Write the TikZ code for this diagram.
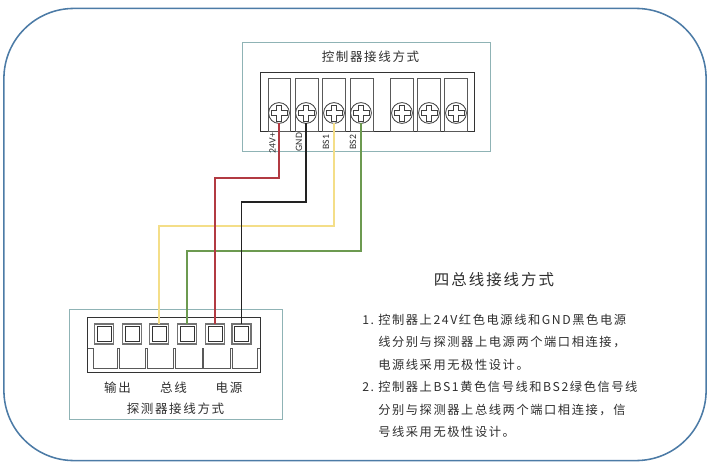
\documentclass[tikz,border=0pt]{standalone}
\usepackage{fontspec}
\setmainfont{Noto Sans CJK SC}
\newfontfamily\cjkspaced[LetterSpace=13]{Noto Sans CJK SC}
\newfontfamily\pinfont{Carlito}
\usetikzlibrary{positioning}

\definecolor{framecol}{HTML}{4C7BA6}
\definecolor{boxcol}{HTML}{8FB3B5}
\definecolor{inkcol}{HTML}{2E2E2E}
\definecolor{redwire}{HTML}{B23A42}
\definecolor{yellowwire}{HTML}{F4DE88}
\definecolor{greenwire}{HTML}{6C9A50}
\definecolor{blackwire}{HTML}{222222}

\tikzset{
	frame/.style={draw=framecol,line width=1.1pt,rounded corners=1.75cm,inner sep=0pt,outer sep=0pt,minimum width=17.55cm,minimum height=11.3cm},
	groupbox/.style={draw=boxcol,line width=0.6pt,inner sep=0pt,outer sep=0pt},
	block/.style={draw=black!80,line width=0.7pt,inner sep=0pt,outer sep=0pt},
	slot/.style={draw=black!65,line width=0.5pt,inner sep=0pt,outer sep=0pt,minimum width=0.56cm,minimum height=1.325cm},
	screw/.style={circle,draw=black!75,line width=0.6pt,fill=white,inner sep=0pt,outer sep=0pt,minimum size=0.52cm,
		path picture={
			\draw[black!75,line width=0.5pt]
				(-2.6,-8)--(2.6,-8)--(2.6,-2.6)--(8,-2.6)--(8,2.6)--(2.6,2.6)
				--(2.6,8)--(-2.6,8)--(-2.6,2.6)--(-8,2.6)--(-8,-2.6)--(-2.6,-2.6)--cycle;
		}},
	port/.style={draw=black!55,line width=0.9pt,fill=white,inner sep=0pt,outer sep=0pt,minimum width=0.47cm,minimum height=0.5cm,
		path picture={\draw[black!80,line width=0.5pt] (-7,-7.5) rectangle (7,7.5);}},
	wire/.style={line width=1.15pt},
	pinlabel/.style={rotate=90,inner sep=0pt,text=inkcol,font=\pinfont\fontsize{6.9pt}{8pt}\selectfont},
	titletext/.style={inner sep=0pt,text=inkcol,font=\cjkspaced\fontsize{8.9pt}{11pt}\selectfont},
	headtext/.style={inner sep=0pt,text=inkcol,font=\cjkspaced\fontsize{11pt}{13pt}\selectfont},
	bodytext/.style={anchor=west,inner sep=0pt,text=inkcol,font=\cjkspaced\fontsize{8.7pt}{10pt}\selectfont},
}

\begin{document}
\begin{tikzpicture}[x=0.025cm,y=-0.025cm]
		\useasboundingbox (0,0) rectangle (712,466);
		\node[frame] (outer) at (355,234.5) {};
		
		% controller side
		\node[groupbox,minimum width=6.2cm,minimum height=2.725cm] (ctrlbox) at (366.5,97) {};
		\node[titletext] (ctrltitle) at (370.5,57) {控制器接线方式};
		\node[block,minimum width=5.325cm,minimum height=1.45cm] (ctrlblock) at (367.5,102) {};
		\node[slot] (slot1) at (279.5,104.5) {};
		\node[slot] (slot2) at (307,104.5) {};
		\node[slot] (slot3) at (334,104.5) {};
		\node[slot] (slot4) at (362,104.5) {};
		\node[slot] (slot5) at (402,104.5) {};
		\node[slot] (slot6) at (429,104.5) {};
		\node[slot] (slot7) at (456,104.5) {};
		\node[screw] (screw1) at (279,113) {};
		\node[screw] (screw2) at (306,113) {};
		\node[screw] (screw3) at (334,113) {};
		\node[screw] (screw4) at (361,113) {};
		\node[screw] (screw5) at (402,113) {};
		\node[screw] (screw6) at (429,113) {};
		\node[screw] (screw7) at (456,113) {};
		\node[pinlabel] (pin1) at (272.5,143) {24V+};
		\node[pinlabel] (pin2) at (299,142) {GND};
		\node[pinlabel] (pin3) at (326,142) {BS1};
		\node[pinlabel] (pin4) at (353,142) {BS2};
		
		% detector side
		\node[groupbox,minimum width=5.325cm,minimum height=2.75cm] (detbox) at (175.5,364) {};
		\node[block,minimum width=4.3cm,minimum height=1.375cm] (detblock) at (174,344.5) {};
		\node[port] (port1) at (104,334) {};
		\node[port] (port2) at (132,334) {};
		\node[port] (port3) at (159,334) {};
		\node[port] (port4) at (187,334) {};
		\node[port] (port5) at (215,334) {};
		\node[port] (port6) at (241.5,334) {};
		\draw[draw=black!65,line width=0.6pt] (detblock.west |- 0,348)--(93,348)--(93,368)--(117,368)--(117,348)--(119,348)--(119,368)--(145,368)--(145,348)--(147,348)
			--(147,368)--(173,368)--(173,348)--(175,348)--(175,368)--(202,368)--(202,348)--(203,348)--(203,368)--(230,368)--(230,348)--(232,348)--(232,368)--(257,368)--(257,348)--(detblock.east |- 0,348);
		\node[titletext] (outlab) at (117.5,388) {输出};
		\node[titletext] (buslab) at (173.5,388) {总线};
		\node[titletext] (powlab) at (229,388) {电源};
		\node[titletext] (dettitle) at (175.5,409) {探测器接线方式};
		
		% wires
		\coordinate (yellowbend) at (159,226);
		\coordinate (greenbend) at (187,251);
		\coordinate (redbend) at (215,178);
		\coordinate (blackbend) at (241.5,202);
		\draw[wire,yellowwire] (screw3.south) |- (yellowbend) -- (port3.north);
		\draw[wire,greenwire] (screw4.south) |- (greenbend) -- (port4.north);
		\draw[wire,redwire] (screw1.south) |- (redbend) -- (port5.north);
		\draw[wire,blackwire] (screw2.south) |- (blackbend) -- (port6.north);
		
		% notes
		\node[headtext] (head) at (494,280) {四总线接线方式};
		\node[bodytext] (num1) at (362,320) {1.};
		\node[bodytext] (line1) at (378,320) {控制器上24V红色电源线和GND黑色电源};
		\node[bodytext] (line2) at (378,342) {线分别与探测器上电源两个端口相连接，};
		\node[bodytext] (line3) at (378,365) {电源线采用无极性设计。};
		\node[bodytext] (num2) at (362,387) {2.};
		\node[bodytext] (line4) at (378,387) {控制器上BS1黄色信号线和BS2绿色信号线};
		\node[bodytext] (line5) at (378,410) {分别与探测器上总线两个端口相连接，信};
		\node[bodytext] (line6) at (378,432) {号线采用无极性设计。};
		
		\end{tikzpicture}
\end{document}
